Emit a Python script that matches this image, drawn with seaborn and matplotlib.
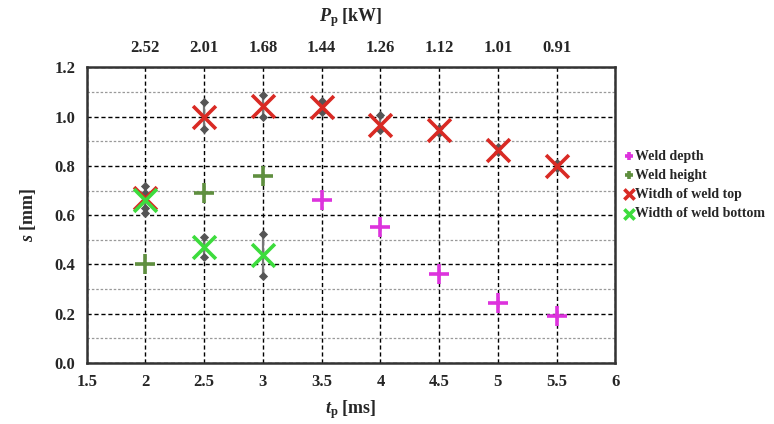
import matplotlib
matplotlib.use("Agg")
import matplotlib.pyplot as plt
import numpy as np
import pandas as pd
import seaborn as sns

# --------------------------------------------------------------------------- #
# Data
# --------------------------------------------------------------------------- #
pulse_time = [2, 2.5, 3, 3.5, 4, 4.5, 5, 5.5]
pulse_power = ["2.52", "2.01", "1.68", "1.44", "1.26", "1.12", "1.01", "0.91"]

depth_t = [3.5, 4, 4.5, 5, 5.5]
depth_s = [0.66, 0.55, 0.36, 0.245, 0.19]

height_t = [2, 2.5, 3]
height_s = [0.40, 0.69, 0.76]

top_t = [2, 2.5, 3, 3.5, 4, 4.5, 5, 5.5]
top_s = [0.67, 1.00, 1.045, 1.04, 0.965, 0.945, 0.865, 0.80]
top_lo = [0.61, 0.95, 1.00, 1.02, 0.945, 0.935, 0.855, 0.79]
top_hi = [0.72, 1.06, 1.087, 1.065, 1.005, 0.955, 0.875, 0.81]

bottom_t = [2, 2.5, 3]
bottom_s = [0.66, 0.47, 0.44]
bottom_lo = [0.63, 0.43, 0.355]
bottom_hi = [0.69, 0.51, 0.525]

series = [
    ("Weld depth", depth_t, depth_s, "+", "#dd33dd", 190),
    ("Weld height", height_t, height_s, "+", "#5f8f3f", 190),
    ("Witdh of weld top", top_t, top_s, "x", "#d92a24", 270),
    ("Width of weld bottom", bottom_t, bottom_s, "x", "#3ddc3d", 270),
]

# --------------------------------------------------------------------------- #
# Style
# --------------------------------------------------------------------------- #
sns.set_theme(style="white")
plt.rcParams["font.family"] = ["Liberation Serif", "DejaVu Serif"]
plt.rcParams["font.weight"] = "bold"
plt.rcParams["mathtext.fontset"] = "custom"
plt.rcParams["mathtext.rm"] = "Liberation Serif:bold"
plt.rcParams["mathtext.it"] = "Liberation Serif:italic:bold"
plt.rcParams["mathtext.bf"] = "Liberation Serif:bold"

fig = plt.figure(figsize=(7.74, 4.24), dpi=100)
ax = fig.add_axes([0.112, 0.144, 0.683, 0.697])

# error bars (behind markers)
for t, s, lo, hi in [(top_t, top_s, top_lo, top_hi),
                     (bottom_t, bottom_s, bottom_lo, bottom_hi)]:
    s = np.asarray(s)
    yerr = [s - np.asarray(lo), np.asarray(hi) - s]
    ax.errorbar(t, s, yerr=yerr, fmt="none", ecolor="#777777",
                elinewidth=1.6, zorder=3)
    ax.scatter(t + t, list(lo) + list(hi), marker="D", s=22,
               color="#555555", zorder=3, linewidths=0)

for name, t, s, mk, col, size in series:
    df = pd.DataFrame({"t": t, "s": s})
    sns.scatterplot(data=df, x="t", y="s", marker=mk, color=col, s=size,
                    linewidth=2.6, label=name, ax=ax, zorder=4)

ax.set_xlim(1.5, 6)
ax.set_ylim(0, 1.2)
ax.set_xticks(np.arange(1.5, 6.01, 0.5))
ax.set_xticklabels(["1.5", "2", "2.5", "3", "3.5", "4", "4.5", "5", "5.5", "6"])
ax.set_yticks(np.arange(0, 1.21, 0.2))
ax.set_yticks(np.arange(0.1, 1.2, 0.2), minor=True)
ax.set_yticklabels([f"{v:.1f}" for v in np.arange(0, 1.21, 0.2)])

ax.grid(True, which="major", axis="both", color="black", linestyle=(0, (3, 2)),
        linewidth=1.0)
ax.grid(True, which="minor", axis="y", color="#999999", linestyle=(0, (2, 1.5)),
        linewidth=0.9)
ax.set_axisbelow(True)
ax.tick_params(axis="both", which="both", length=0, labelsize=12, pad=8)
for lab in ax.get_xticklabels() + ax.get_yticklabels():
    lab.set_fontweight("bold")
for sp in ax.spines.values():
    sp.set_color("#333333")
    sp.set_linewidth(1.8)

ax.set_xlabel(r"$t_{\mathrm{p}}$ [ms]", fontsize=13, fontweight="bold", labelpad=6)
ax.set_ylabel(r"$s$ [mm]", fontsize=13, fontweight="bold", labelpad=12)

# top axis: pulse power
ax2 = ax.twiny()
ax2.set_xlim(ax.get_xlim())
ax2.set_xticks(pulse_time)
ax2.set_xticklabels(pulse_power)
ax2.tick_params(axis="x", length=0, labelsize=12, pad=8)
for lab in ax2.get_xticklabels():
    lab.set_fontweight("bold")
ax2.set_xlabel(r"$P_{\mathrm{p}}$ [kW]", fontsize=13, fontweight="bold", labelpad=14)
for sp in ax2.spines.values():
    sp.set_visible(False)

leg = ax.legend(loc="upper left", bbox_to_anchor=(1.0, 0.755), frameon=False,
                markerscale=0.45, handlelength=0.6, handletextpad=0.1,
                labelspacing=0.45, borderaxespad=0.3,
                prop={"family": "Liberation Serif", "weight": "bold", "size": 10})

fig.savefig("out.png", dpi=100)
